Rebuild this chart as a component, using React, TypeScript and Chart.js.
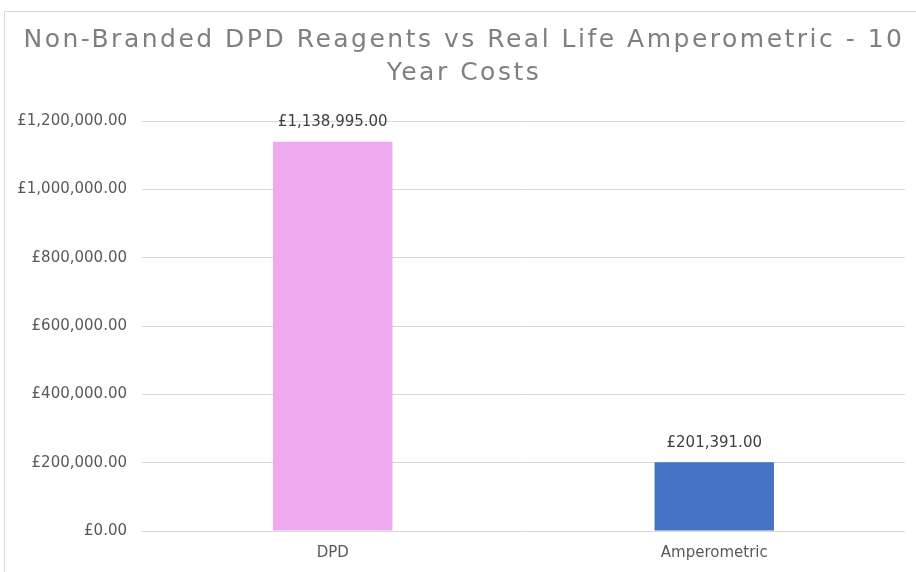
import React, { useEffect, useRef } from "react";
import { Chart, registerables } from "chart.js";

Chart.register(...registerables);

const categories: string[] = ["DPD", "Amperometric"];
const costs: number[] = [1138995, 201391];
const barColors: string[] = ["#EFA9EF", "#4472C4"];
const yMin = 0;
const yMax = 1200000;
const yStep = 200000;
const titleLines: string[] = [
  "Non-Branded DPD Reagents vs Real Life Amperometric - 10",
  "Year Costs",
];

function gbp(v: number): string {
  const fixed = Math.abs(v).toFixed(2);
  const [intPart, dec] = fixed.split(".");
  const withCommas = intPart.replace(/\B(?=(\d{3})+(?!\d))/g, ",");
  return (v < 0 ? "-" : "") + "£" + withCommas + "." + dec;
}

const framePlugin = {
  id: "frame",
  beforeDraw(chart: any) {
    const ctx = chart.ctx;
    ctx.save();
    ctx.fillStyle = "#ffffff";
    ctx.fillRect(0, 0, chart.width, chart.height);
    ctx.strokeStyle = "#d9d9d9";
    ctx.lineWidth = 1;
    ctx.strokeRect(4.5, 11.5, chart.width + 20, chart.height + 20);
    ctx.restore();
  },
};

const titlePlugin = {
  id: "excelTitle",
  afterDraw(chart: any) {
    const ctx = chart.ctx;
    ctx.save();
    ctx.font = "25px 'DejaVu Sans'";
    try {
      (ctx as any).letterSpacing = "2.5px";
    } catch (e) {}
    ctx.fillStyle = "#7f7f7f";
    ctx.textAlign = "center";
    ctx.textBaseline = "middle";
    const cx = chart.width / 2 + 6;
    titleLines.forEach((line, i) => {
      ctx.fillText(line, cx, 40 + i * 33);
    });
    ctx.restore();
  },
};

const dataLabelPlugin = {
  id: "dataLabels",
  afterDatasetsDraw(chart: any) {
    const ctx = chart.ctx;
    const meta = chart.getDatasetMeta(0);
    ctx.save();
    ctx.font = "15px 'DejaVu Sans'";
    ctx.fillStyle = "#404040";
    ctx.textAlign = "center";
    ctx.textBaseline = "middle";
    meta.data.forEach((bar: any, i: number) => {
      const v = chart.data.datasets[0].data[i] as number;
      ctx.fillText(gbp(v), bar.x, bar.y - 19.5);
    });
    ctx.restore();
  },
};

export default function App() {
  const canvasRef = useRef<HTMLCanvasElement | null>(null);

  useEffect(() => {
    if (!canvasRef.current) return;
    const chart = new Chart(canvasRef.current, {
      type: "bar",
      data: {
        labels: categories,
        datasets: [
          {
            data: costs,
            backgroundColor: barColors,
            borderWidth: 0,
            barPercentage: 0.313,
            categoryPercentage: 1,
          },
        ],
      },
      options: {
        responsive: false,
        animation: false,
        devicePixelRatio: 1,
        layout: { padding: { top: 121, right: 11, bottom: 0, left: 0 } },
        plugins: {
          legend: { display: false },
          tooltip: { enabled: false },
          title: { display: false },
        },
        scales: {
          x: {
            grid: { display: false, drawTicks: false },
            border: { display: false },
            ticks: {
              color: "#595959",
              font: { family: "'DejaVu Sans'", size: 15 },
              padding: 13,
              maxRotation: 0,
            },
            afterFit(scale: any) {
              scale.height = 41;
            },
          },
          y: {
            min: yMin,
            max: yMax,
            grid: { color: "#d9d9d9", lineWidth: 1, drawTicks: false },
            border: { display: false },
            ticks: {
              stepSize: yStep,
              color: "#595959",
              font: { family: "'DejaVu Sans'", size: 15 },
              padding: 15,
              callback: (v: any) => gbp(Number(v)),
            },
            afterFit(scale: any) {
              scale.width = 142;
            },
          },
        },
      },
      plugins: [framePlugin, titlePlugin, dataLabelPlugin],
    });
    return () => chart.destroy();
  }, []);

  return (
    <div style={{ position: "absolute", left: 0, top: 0, width: 916, height: 572 }}>
      <canvas ref={canvasRef} width={916} height={572} style={{ display: "block" }} />
    </div>
  );
}
